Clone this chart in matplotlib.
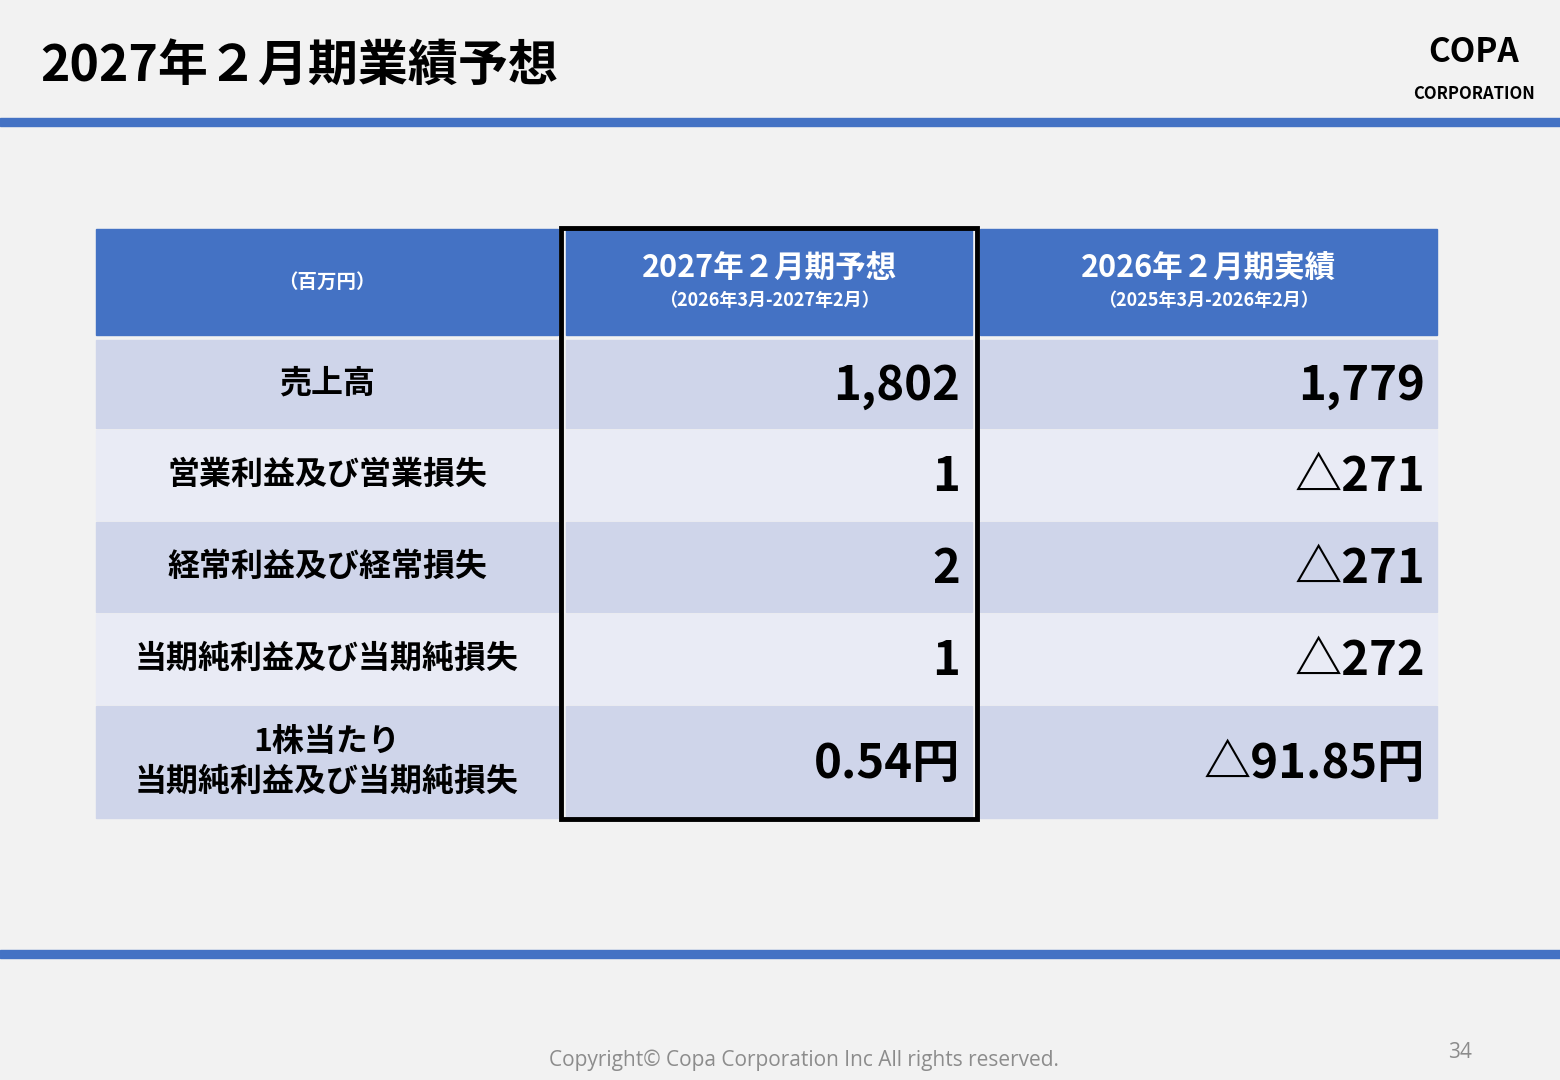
import matplotlib
matplotlib.use("Agg")
import matplotlib.pyplot as plt
from matplotlib.patches import Rectangle

plt.rcParams['font.family'] = ['Noto Sans CJK JP', 'DejaVu Sans']

title = "2027年２月期業績予想"
unit = "（百万円）"
col_heads = ["2027年２月期予想", "2026年２月期実績"]
col_subs = ["（2026年3月-2027年2月）", "（2025年3月-2026年2月）"]
row_labels = ["売上高", "営業利益及び営業損失", "経常利益及び経常損失",
              "当期純利益及び当期純損失", "1株当たり\n当期純利益及び当期純損失"]
forecast = ["1,802", "1", "2", "1", "0.54円"]
actual = ["1,779", "△271", "△271", "△272", "△91.85円"]

W, H = 1560, 1080
fig = plt.figure(figsize=(W/100, H/100), dpi=100)
fig.patch.set_facecolor('#F2F2F2')
ax = fig.add_axes([0, 0, 1, 1])
ax.set_xlim(0, W); ax.set_ylim(H, 0); ax.axis('off')

blue = '#4472C4'
ax.add_patch(Rectangle((0, 118), W, 8, color=blue))
ax.add_patch(Rectangle((0, 950), W, 8, color=blue))
ax.text(40, 66, title, fontsize=36, fontweight='bold', va='center', ha='left')
ax.text(1474, 52, "COPA", fontsize=24, fontweight='bold', ha='center', va='center')
ax.text(1474, 94, "CORPORATION", fontsize=12, fontweight='bold', ha='center', va='center')

cols = [(96, 558), (566, 972), (980, 1437)]
hdr = (229, 335)
rows = [(340, 428), (430, 520), (522, 612), (614, 704), (706, 818)]
row_colors = ['#CFD5EA', '#E9EBF5', '#CFD5EA', '#E9EBF5', '#CFD5EA']

for x0, x1 in cols:
    ax.add_patch(Rectangle((x0, hdr[0]), x1-x0, hdr[1]-hdr[0], color=blue))
ax.text(sum(cols[0])/2, 282, unit, color='white', fontsize=14, fontweight='bold', ha='center', va='center')
for i, (h, s) in enumerate(zip(col_heads, col_subs)):
    cx = sum(cols[i+1])/2
    ax.text(cx, 268, h, color='white', fontsize=22, fontweight='bold', ha='center', va='center')
    ax.text(cx, 301, s, color='white', fontsize=13, fontweight='bold', ha='center', va='center')

for (y0, y1), c, lab, f, a in zip(rows, row_colors, row_labels, forecast, actual):
    for x0, x1 in cols:
        ax.add_patch(Rectangle((x0, y0), x1-x0, y1-y0, color=c))
    cy = (y0+y1)/2
    ax.text(sum(cols[0])/2, cy, lab, fontsize=23, fontweight='bold', ha='center', va='center', linespacing=1.3)
    ax.text(cols[1][1]-12, cy+2, f, fontsize=34, fontweight='bold', ha='right', va='center')
    ax.text(cols[2][1]-12, cy+2, a, fontsize=34, fontweight='bold', ha='right', va='center')

ax.add_patch(Rectangle((561, 228), 416, 591, fill=False, ec='black', lw=3.5))

ax.text(804, 1060, "Copyright© Copa Corporation Inc All rights reserved.", fontsize=15,
        color='#8C8C8C', ha='center', va='center', family=['Open Sans', 'DejaVu Sans'])
ax.text(1460, 1053, "34", fontsize=15, color='#8C8C8C', ha='center', va='center',
        family=['Open Sans', 'DejaVu Sans'])

fig.savefig('out.png', dpi=100, facecolor=fig.get_facecolor())
